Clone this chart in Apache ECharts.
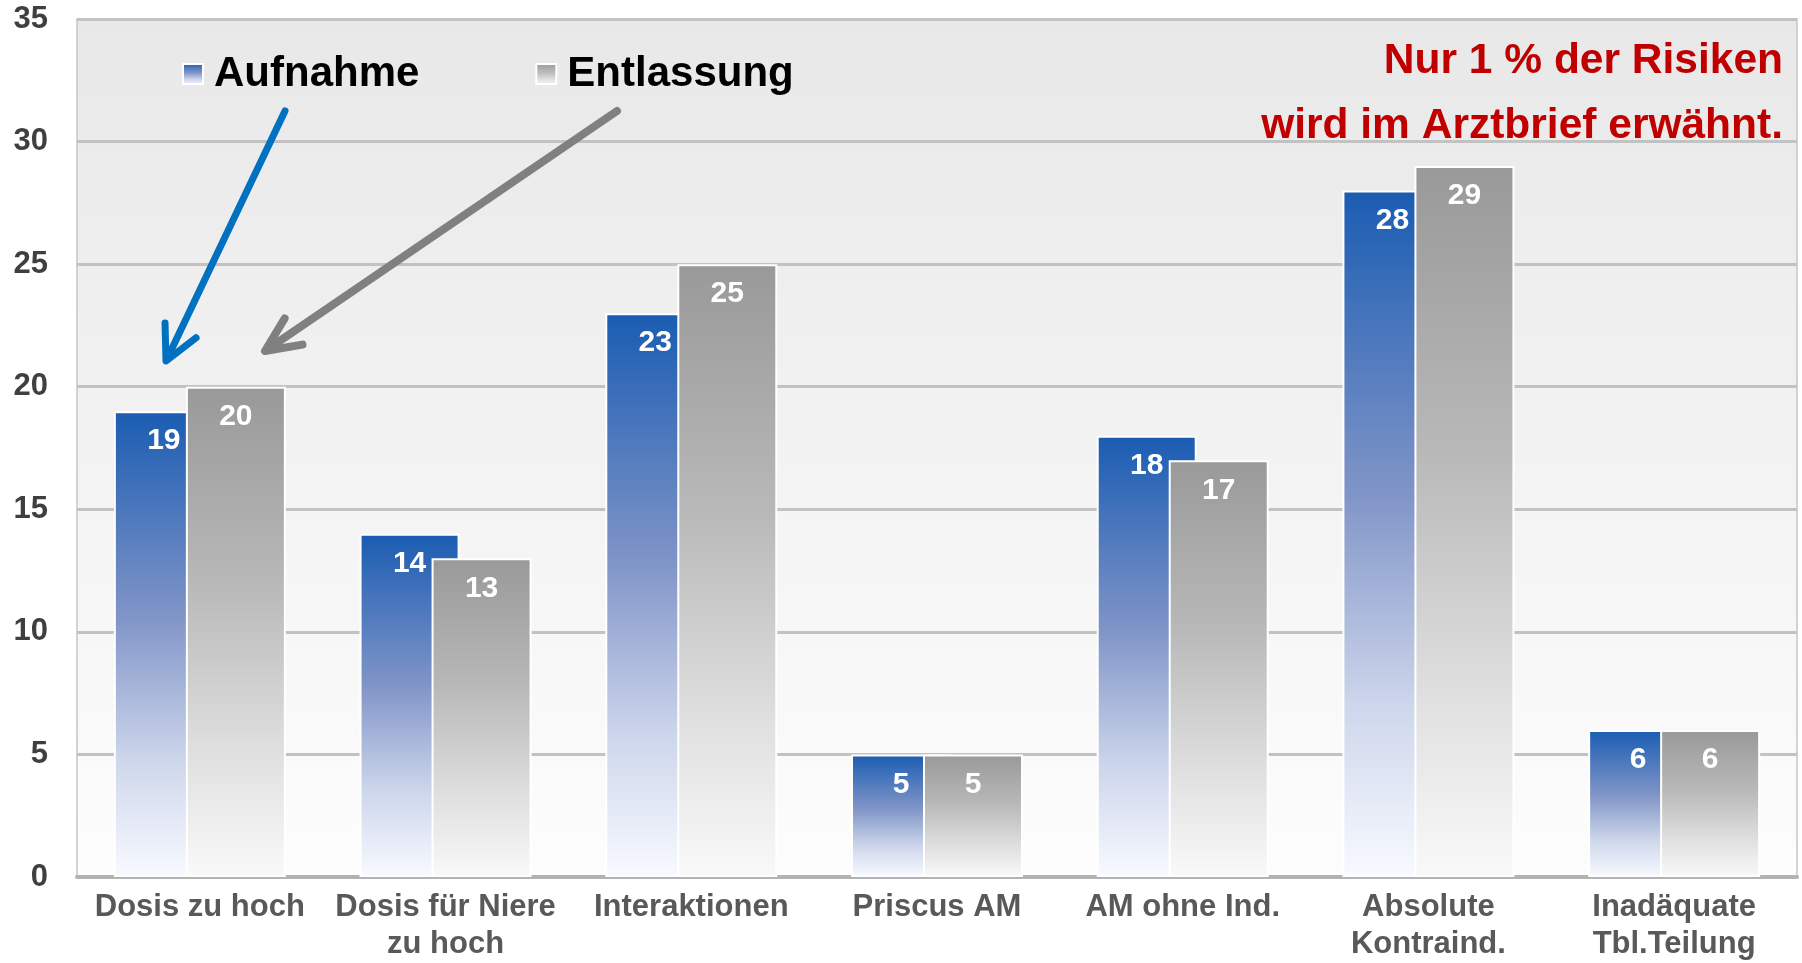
<!DOCTYPE html>
<html>
<head>
<meta charset="utf-8">
<script src="https://cdn.jsdelivr.net/npm/echarts@6/dist/echarts.min.js"></script>
<style>
  html, body { margin: 0; padding: 0; background: #ffffff; }
  #chart { width: 1802px; height: 963px; }
</style>
</head>
<body>
<div id="chart"></div>
<script>
// Kategorien der Medikationsrisiken
const categories = [
  'Dosis zu hoch',
  'Dosis für Niere\nzu hoch',
  'Interaktionen',
  'Priscus AM',
  'AM ohne Ind.',
  'Absolute\nKontraind.',
  'Inadäquate\nTbl.Teilung'
];
// Werte bei Aufnahme und bei Entlassung
const aufnahme = [19, 14, 23, 5, 18, 28, 6];
const entlassung = [20, 13, 25, 5, 17, 29, 6];
const seriesNames = ['Aufnahme', 'Entlassung'];
// Hinweistext oben rechts
const noteLines = ['Nur 1 % der Risiken', 'wird im Arztbrief erwähnt.'];

const FONT = '"Liberation Sans", Arial, Helvetica, sans-serif';

function vGrad(stops) {
  return new echarts.graphic.LinearGradient(0, 0, 0, 1,
    stops.map(function (s) { return { offset: s[0], color: s[1] }; }));
}

// Pfeil als Schaft plus offene Spitze
function arrow(x0, y0, x1, y1, color, width, head, spread) {
  const ang = Math.atan2(y0 - y1, x0 - x1);
  const a1 = ang - spread, a2 = ang + spread;
  const sx = x1 + Math.cos(ang) * width * 0.8, sy = y1 + Math.sin(ang) * width * 0.8;
  return [
    {
      type: 'line', z: 100,
      shape: { x1: x0, y1: y0, x2: sx, y2: sy },
      style: { stroke: color, lineWidth: width, lineCap: 'round' }
    },
    {
      type: 'polyline', z: 100,
      shape: { points: [
        [x1 + head * Math.cos(a1), y1 + head * Math.sin(a1)],
        [x1, y1],
        [x1 + head * Math.cos(a2), y1 + head * Math.sin(a2)]
      ] },
      style: { stroke: color, lineWidth: width, lineCap: 'round', lineJoin: 'round', fill: null }
    }
  ];
}

const chart = echarts.init(document.getElementById('chart'), null, { renderer: 'canvas' });

const barLabel = {
  show: true,
  position: 'insideTop',
  distance: 15,
  color: '#ffffff',
  fontFamily: FONT,
  fontSize: 30,
  fontWeight: 'bold',
  lineHeight: 30
};

const graphics = []
  .concat(arrow(285, 111, 166, 361, '#0070c0', 7, 38, 0.47))
  .concat(arrow(617, 111, 265, 351, '#808080', 8, 38, 0.43))
  .concat(noteLines.map(function (t, i) {
    return {
      type: 'text', z: 100,
      style: {
        x: 1783, y: 61 + i * 65, text: t,
        textAlign: 'right', textVerticalAlign: 'middle',
        fill: '#c00000', font: 'bold 42.5px ' + FONT
      }
    };
  }));

chart.setOption({
  animation: false,
  backgroundColor: '#ffffff',
  grid: {
    left: 77, right: 5, top: 19, bottom: 86,
    show: true,
    backgroundColor: vGrad([[0, '#e8e8e8'], [1, '#fdfdfd']]),
    borderColor: '#c6c6c6',
    borderWidth: 1.5
  },
  legend: {
    data: seriesNames,
    left: 182, top: 53,
    padding: 0,
    icon: 'rect',
    itemWidth: 20, itemHeight: 20,
    itemGap: 116,
    selectedMode: false,
    textStyle: {
      fontFamily: FONT, fontSize: 42, fontWeight: 'bold', color: '#000000',
      padding: [0, 0, 0, 6]
    }
  },
  xAxis: {
    type: 'category',
    data: categories,
    axisTick: { show: false },
    axisLine: { lineStyle: { color: '#b3b3b3', width: 4 } },
    axisLabel: {
      interval: 0,
      margin: 12,
      fontFamily: FONT, fontSize: 31, fontWeight: 'bold',
      color: '#595959', lineHeight: 37
    }
  },
  yAxis: {
    type: 'value',
    min: 0, max: 35, interval: 5,
    axisLine: { show: false },
    axisTick: { show: false },
    axisLabel: {
      margin: 29,
      fontFamily: FONT, fontSize: 31, fontWeight: 'bold', color: '#3f3f3f'
    },
    splitLine: { lineStyle: { color: '#c2c2c2', width: 3 } }
  },
  series: [
    {
      name: seriesNames[0],
      type: 'bar',
      data: aufnahme,
      barWidth: 100,
      barGap: '-28%',
      itemStyle: {
        color: vGrad([[0, '#1a5cb2'], [0.45, '#8296c8'], [0.75, '#cdd6eb'], [1, '#f8faff']]),
        borderColor: '#ffffff',
        borderWidth: 2
      },
      label: barLabel
    },
    {
      name: seriesNames[1],
      type: 'bar',
      data: entlassung,
      barWidth: 100,
      barGap: '-28%',
      itemStyle: {
        color: vGrad([[0, '#999999'], [0.4, '#b8b8b8'], [0.75, '#e0e0e0'], [1, '#f9f9f9']]),
        borderColor: '#ffffff',
        borderWidth: 2
      },
      label: barLabel
    }
  ],
  graphic: graphics
});
</script>
</body>
</html>
